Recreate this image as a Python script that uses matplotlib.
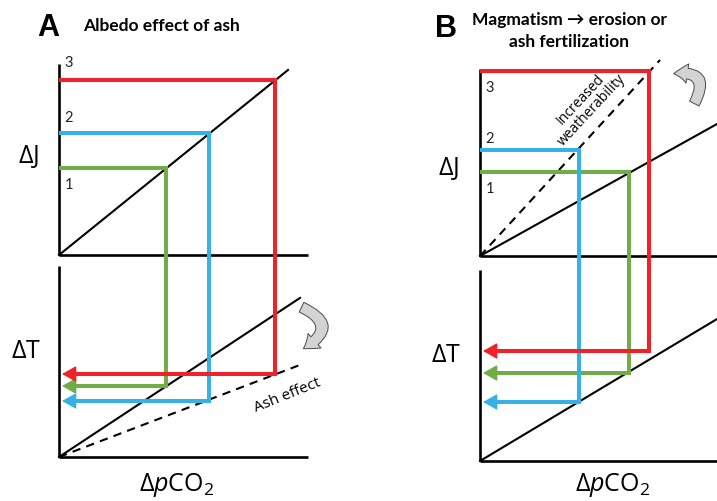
import matplotlib
matplotlib.use("Agg")
import matplotlib.pyplot as plt
from matplotlib.patches import FancyArrowPatch

plt.rcParams['mathtext.fontset'] = 'custom'
plt.rcParams['mathtext.rm'] = 'Open Sans'
plt.rcParams['mathtext.it'] = 'Open Sans:italic'
plt.rcParams['mathtext.fallback'] = 'stixsans'

# ---------------- data (schematic units) ----------------
steps = ['1', '2', '3']
step_colors = ['#70AD47', '#35B1E6', '#EE2229']   # green, blue, red

# Panel A: albedo effect of ash
pco2_A = [1.07, 1.50, 2.16]
J_A = [0.87, 1.22, 1.75]
T_A = [0.71, 0.56, 0.83]
J_slope_A = 0.808        # weathering vs pCO2
T_slope_A = 0.66         # climate sensitivity
T_slope_ash_A = 0.382    # with ash albedo effect
label_dy_A = [-0.16, 0.16, 0.18]

# Panel B: magmatism -> erosion / ash fertilization
pco2_B = [1.49, 0.99, 1.69]
J_B = [0.84, 1.06, 1.85]
T_B = [0.88, 0.59, 1.10]
J_slope_B = 0.557
J_slope_weath_B = 1.089  # increased weatherability
T_slope_B = 0.599
label_dy_B = [-0.16, 0.12, -0.16]

W, H = 717, 502
fig = plt.figure(figsize=(W / 100, H / 100), dpi=100)

LW_AX = 1.9
LW_BLK = 1.5
LW_COL = 2.9


def panel(ax, off, xmax, ytop_up, ytop_lo, pco2, J, T, solidJ, dashJ, solidT,
          dashT, label_dy):
    ax.set_axis_off()
    # axes of both sub-diagrams
    ax.plot([0, 0], [off, off + ytop_up], color='k', lw=LW_AX, solid_capstyle='butt')
    ax.plot([0, xmax], [off, off], color='k', lw=LW_AX, solid_capstyle='butt')
    ax.plot([0, 0], [0, ytop_lo], color='k', lw=LW_AX, solid_capstyle='butt')
    ax.plot([0, xmax], [0, 0], color='k', lw=LW_AX, solid_capstyle='butt')
    # J relations
    x1, s1 = solidJ
    ax.plot([0, x1], [off, off + s1 * x1], color='k', lw=LW_BLK)
    if dashJ is not None:
        x2, s2 = dashJ
        ax.plot([0, x2], [off, off + s2 * x2], color='k', lw=LW_BLK, dashes=(4, 3))
    # T relations
    x3, s3 = solidT
    ax.plot([0, x3], [0, s3 * x3], color='k', lw=LW_BLK)
    if dashT is not None:
        x4, s4 = dashT
        ax.plot([0, x4], [0, s4 * x4], color='k', lw=LW_BLK, dashes=(4, 3))
    # colored paths
    for p, j, t, c, lab, dy in zip(pco2, J, T, step_colors, steps, label_dy):
        ax.plot([0, p, p, 0.1], [off + j, off + j, t, t], color=c, lw=LW_COL,
                solid_joinstyle='miter', solid_capstyle='butt', zorder=5)
        ax.annotate('', xy=(0.03, t), xytext=(0.3, t),
                    arrowprops=dict(arrowstyle='-|>,head_length=0.8,head_width=0.45',
                                    color=c, lw=1.0, mutation_scale=11,
                                    shrinkA=0, shrinkB=0), zorder=6)
        ax.text(0.1, off + j + dy, lab, fontsize=10.5, family='Lato',
                ha='center', va='center', color='#222222')


# ---------- Panel A ----------
axA = fig.add_axes([0, 0, 358.5 / W, 1])
axA.set_xlim(-0.59, 3.585 - 0.59)
axA.set_ylim(-0.44, 4.58)
offA = 2.02
panel(axA, offA, 2.49, 1.91, 1.91, pco2_A, J_A, T_A,
      (2.29, J_slope_A), None, (2.41, T_slope_A), (2.41, T_slope_ash_A), label_dy_A)
axA.text(-0.31, offA + 1.00, r'$\Delta$J', fontsize=18, family='Open Sans',
         ha='center', va='center')
axA.text(-0.33, 1.06, r'$\Delta$T', fontsize=18, family='Open Sans',
         ha='center', va='center')
axA.text(1.18, -0.27, r'$\Delta\mathit{p}\mathrm{CO}_2$', fontsize=18,
         ha='center', va='center')
axA.text(2.28, 0.62, 'Ash effect', fontsize=11, family='Open Sans', rotation=22,
         ha='center', va='center', rotation_mode='anchor')
axA.add_patch(FancyArrowPatch((2.40, 1.51), (2.42, 1.07),
                              connectionstyle='arc3,rad=-1.0',
                              arrowstyle='simple,head_length=0.7,head_width=1.0,tail_width=0.55',
                              mutation_scale=14, facecolor='#D3D3D3', edgecolor='#4A4A4A',
                              lw=0.7))

# ---------- Panel B ----------
axB = fig.add_axes([358.5 / W, 0, 358.5 / W, 1])
axB.set_xlim(-1.215, 2.37)
axB.set_ylim(-0.40, 4.62)
offB = 2.05
panel(axB, offB, 2.6, 1.87, 1.91, pco2_B, J_B, T_B,
      (2.6, J_slope_B), (1.80, J_slope_weath_B), (2.6, T_slope_B), None, label_dy_B)
axB.text(-0.32, offB + 0.89, r'$\Delta$J', fontsize=18, family='Open Sans',
         ha='center', va='center')
axB.text(-0.34, 1.07, r'$\Delta$T', fontsize=18, family='Open Sans',
         ha='center', va='center')
axB.text(1.33, -0.23, r'$\Delta\mathit{p}\mathrm{CO}_2$', fontsize=18,
         ha='center', va='center')
axB.text(1.06, offB + 1.52, 'Increased\nweatherability', fontsize=10,
         family='Open Sans', rotation=47, ha='center', va='center',
         rotation_mode='anchor', linespacing=1.0)
axB.add_patch(FancyArrowPatch((2.13, 3.55), (1.91, 3.87),
                              connectionstyle='arc3,rad=1.0',
                              arrowstyle='simple,head_length=0.7,head_width=1.0,tail_width=0.55',
                              mutation_scale=14, facecolor='#D3D3D3', edgecolor='#4A4A4A',
                              lw=0.7))

# ---------- titles ----------
def ft(x, y, s, **kw):
    fig.text(x / W, 1 - y / H, s, **kw)

ft(48, 28, 'A', fontsize=22, fontweight='bold', family='Liberation Sans',
   ha='center', va='center')
ft(83, 26, 'Albedo effect of ash', fontsize=12.5, fontweight='bold', family='Lato',
   ha='left', va='center')
ft(446, 29, 'B', fontsize=22, fontweight='bold', family='Liberation Sans',
   ha='center', va='center')
ft(569, 20, 'Magmatism \u2192 erosion or', fontsize=12.5, fontweight='bold',
   family='Lato', ha='center', va='center')
ft(569, 42, 'ash fertilization', fontsize=12.5, fontweight='bold', family='Lato',
   ha='center', va='center')

fig.savefig('out.png', dpi=100)
